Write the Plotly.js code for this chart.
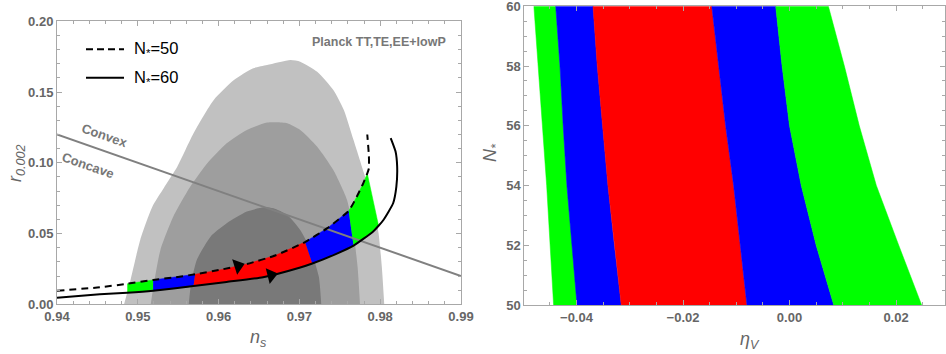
<!DOCTYPE html>
<html><head><meta charset="utf-8">
<script src="https://cdn.plot.ly/plotly-3.0.1.min.js"></script>
<style>html,body{margin:0;padding:0;background:#fff}#chart{width:946px;height:354px}</style>
</head><body><div id="chart"></div>
<script>
// ---------- Left panel data ----------
// Planck contours (n_s, r)
const outerN = [0.9483,0.9491,0.9503,0.9518,0.9532,0.9549,0.9569,0.9594,0.9619,0.9643,0.9660,0.9689,0.9701,0.9722,0.9742,0.9755,0.9767,0.9780,0.9792,0.9798,0.9802,0.9805];
const outerR = [0,0.0172,0.0455,0.0690,0.0820,0.0973,0.1208,0.1444,0.1585,0.1668,0.1691,0.1727,0.1715,0.1644,0.1515,0.1373,0.1161,0.0926,0.0690,0.0502,0.0266,0];
const midN = [0.9516,0.9520,0.9528,0.9544,0.9565,0.9586,0.9610,0.9635,0.9660,0.9672,0.9685,0.9701,0.9722,0.9742,0.9759,0.9767,0.9772,0.9775];
const midR = [0,0.0148,0.0384,0.0620,0.0832,0.0997,0.1138,0.1232,0.1284,0.1286,0.1279,0.1232,0.1114,0.0949,0.0737,0.0502,0.0266,0];
const innerN = [0.9563,0.9566,0.9573,0.9590,0.9610,0.9635,0.9656,0.9668,0.9685,0.9701,0.9714,0.9724,0.9727];
const innerR = [0,0.0148,0.0313,0.0478,0.0572,0.0655,0.0685,0.0678,0.0631,0.0525,0.0384,0.0196,0];

// N*=50 curve (dashed)
const n50 = [0.9400,0.9453,0.9487,0.9519,0.9545,0.9571,0.9603,0.9635,0.9670,0.9707,0.9735,0.9761,0.9771,0.9779,0.9784,0.9786,0.9786,0.9784];
const r50 = [0.0096,0.0120,0.0145,0.0172,0.0190,0.0212,0.0245,0.0285,0.0345,0.0440,0.0540,0.0660,0.0760,0.0855,0.0925,0.0960,0.1050,0.1200];
// N*=60 curve (solid)
const n60 = [0.9400,0.9453,0.9487,0.9519,0.9569,0.9610,0.9655,0.9700,0.9716,0.9745,0.9767,0.9791,0.9798,0.9804,0.9816,0.9820,0.9821,0.9819,0.9813];
const r60 = [0.0047,0.0071,0.0082,0.0096,0.0129,0.0158,0.0191,0.0258,0.0288,0.0355,0.0415,0.0513,0.0555,0.0596,0.0714,0.0831,0.0972,0.1080,0.1175];
// indices on each curve where colour bands change
const b50 = [2,3,5,9,11,14];
const b60 = [2,3,4,8,10,12];
const bandColors = ['#00ff00','#0000ff','#ff0000','#0000ff','#00ff00'];

// convex / concave divider line
const divN = [0.94, 0.99];
const divR = [0.12, 0.02];
// arrows
const arrowN = [0.9624, 0.9665];
const arrowR = [0.0271, 0.0205];
const arrowAng = [-18, -14];

// ---------- Right panel data ----------
const Nstar = [50,52,54,56,58,60];
const NstarTicks = [50,52,54,56,58,60];
const etaB = [
  [-0.0443,-0.0449,-0.0456,-0.0464,-0.0472,-0.0480],
  [-0.0399,-0.0408,-0.0418,-0.0425,-0.0431,-0.0439],
  [-0.0316,-0.0329,-0.0341,-0.0351,-0.0361,-0.0369],
  [-0.0080,-0.0092,-0.0105,-0.0120,-0.0133,-0.0146],
  [ 0.0083, 0.0050, 0.0022, 0.0000,-0.0014,-0.0026],
  [ 0.0248, 0.0205, 0.0163, 0.0131, 0.0103, 0.0073]
];

// ---------- Build traces ----------
const traces = [];
const grays = [['rgb(193,193,193)',outerN,outerR],['rgb(158,158,158)',midN,midR],['rgb(121,121,121)',innerN,innerR]];
grays.forEach(g => traces.push({x:g[1], y:g[2], xaxis:'x', yaxis:'y', type:'scatter', mode:'lines',
  fill:'toself', fillcolor:g[0], line:{width:0, shape:'spline', smoothing:0.6, color:g[0]}, hoverinfo:'skip', showlegend:false}));

for (let i=0;i<5;i++){
  const xs=[], ys=[];
  for (let k=b50[i]; k<=b50[i+1]; k++){ xs.push(n50[k]); ys.push(r50[k]); }
  for (let k=b60[i+1]; k>=b60[i]; k--){ xs.push(n60[k]); ys.push(r60[k]); }
  traces.push({x:xs, y:ys, xaxis:'x', yaxis:'y', type:'scatter', mode:'lines', fill:'toself',
    fillcolor:bandColors[i], line:{width:0.5, color:bandColors[i]}, hoverinfo:'skip', showlegend:false});
}
traces.push({x:divN, y:divR, xaxis:'x', yaxis:'y', type:'scatter', mode:'lines',
  line:{color:'rgb(128,128,128)', width:2}, showlegend:false, hoverinfo:'skip'});
traces.push({x:n50, y:r50, xaxis:'x', yaxis:'y', type:'scatter', mode:'lines',
  line:{color:'#000', width:2, dash:'7px,5px', shape:'spline', smoothing:0.5}, showlegend:false});
traces.push({x:n60, y:r60, xaxis:'x', yaxis:'y', type:'scatter', mode:'lines',
  line:{color:'#000', width:2, shape:'spline', smoothing:0.5}, showlegend:false});
traces.push({x:arrowN, y:arrowR, xaxis:'x', yaxis:'y', type:'scatter', mode:'markers',
  marker:{symbol:'triangle-right', size:14, color:'#000', angle:arrowAng, line:{width:0}}, showlegend:false});

for (let i=0;i<5;i++){
  const xs = etaB[i].concat(etaB[i+1].slice().reverse());
  const ys = Nstar.concat(Nstar.slice().reverse());
  traces.push({x:xs, y:ys, xaxis:'x2', yaxis:'y2', type:'scatter', mode:'lines', fill:'toself',
    fillcolor:bandColors[i], line:{width:0.5, color:bandColors[i]}, hoverinfo:'skip', showlegend:false});
}

// ---------- Layout ----------
const W=946, H=354;
const px = v => v/W, py = v => 1 - v/H;
const tf = {family:'Liberation Sans, Arial, sans-serif', size:13, color:'#666', weight:'bold'};
const frameColor = '#a8a8a8';
function ax(extra){
  return Object.assign({showline:true, linecolor:frameColor, linewidth:1, mirror:'allticks', ticks:'inside',
    ticklen:5, tickcolor:frameColor, showgrid:false, zeroline:false, tickfont:tf, fixedrange:true,
    ticklabeloverflow:'allow'}, extra);
}
const layout = {
  width:W, height:H, margin:{l:0,r:0,t:0,b:0}, paper_bgcolor:'#fff', plot_bgcolor:'#fff', showlegend:false,
  xaxis: ax({domain:[px(57), px(461)], range:[0.94,0.99], tick0:0.94, dtick:0.01, tickformat:'.2f',
    minor:{ticks:'inside', dtick:0.002, ticklen:3, tickcolor:frameColor}, anchor:'y'}),
  yaxis: ax({domain:[1-304.3/H, 1-21.3/H], range:[0,0.2], dtick:0.05, tickformat:'.2f',
    minor:{ticks:'inside', dtick:0.01, ticklen:3, tickcolor:frameColor}, anchor:'x'}),
  xaxis2: ax({domain:[px(524.3), 0.999], range:[-0.0498,0.0292], tick0:0, dtick:0.02, tickformat:'.2f',
    minor:{ticks:'inside', dtick:0.005, ticklen:3, tickcolor:frameColor}, anchor:'y2'}),
  yaxis2: ax({domain:[1-305/H, 1-6.3/H], range:[49.999,60.001], tickmode:'array', tickvals:NstarTicks,
    minor:{ticks:'inside', dtick:0.5, tick0:50, ticklen:3, tickcolor:frameColor}, anchor:'x2'}),
  shapes:[
    {type:'line', xref:'paper', yref:'paper', x0:px(86), x1:px(124), y0:py(49.3), y1:py(49.3), line:{color:'#000', width:2, dash:'7px,4px'}},
    {type:'line', xref:'paper', yref:'paper', x0:px(86), x1:px(124), y0:py(77.7), y1:py(77.7), line:{color:'#000', width:2}}
  ],
  annotations:[
    {xref:'paper', yref:'paper', x:px(132), y:py(49.5), xanchor:'left', yanchor:'middle', showarrow:false,
      text:'N<sub>*</sub>=50', font:{family:'Liberation Sans, Arial, sans-serif', size:16.5, color:'#000'}},
    {xref:'paper', yref:'paper', x:px(132), y:py(78), xanchor:'left', yanchor:'middle', showarrow:false,
      text:'N<sub>*</sub>=60', font:{family:'Liberation Sans, Arial, sans-serif', size:16.5, color:'#000'}},
    {xref:'paper', yref:'paper', x:px(448), y:py(42), xanchor:'right', yanchor:'middle', showarrow:false,
      text:'Planck TT,TE,EE+lowP', font:{family:'Liberation Sans, Arial, sans-serif', size:12.5, color:'#777', weight:'bold'}},
    {xref:'paper', yref:'paper', x:px(104.7), y:py(135), xanchor:'center', yanchor:'middle', showarrow:false, textangle:19.3,
      text:'Convex', font:{family:'Liberation Sans, Arial, sans-serif', size:13, color:'#777', weight:'bold'}},
    {xref:'paper', yref:'paper', x:px(88.3), y:py(165), xanchor:'center', yanchor:'middle', showarrow:false, textangle:19.3,
      text:'Concave', font:{family:'Liberation Sans, Arial, sans-serif', size:13, color:'#777', weight:'bold'}},
    {xref:'paper', yref:'paper', x:px(258), y:py(338), xanchor:'center', yanchor:'middle', showarrow:false,
      text:'<i>n<sub>s</sub></i>', font:{family:'Liberation Sans, Arial, sans-serif', size:18, color:'#666'}},
    {xref:'paper', yref:'paper', x:px(16), y:py(163), xanchor:'center', yanchor:'middle', showarrow:false, textangle:-90,
      text:'<i>r<sub>0.002</sub></i>', font:{family:'Liberation Sans, Arial, sans-serif', size:18, color:'#666'}},
    {xref:'paper', yref:'paper', x:px(750), y:py(340), xanchor:'center', yanchor:'middle', showarrow:false,
      text:'<i>η<sub>V</sub></i>', font:{family:'Liberation Sans, Arial, sans-serif', size:18, color:'#666'}},
    {xref:'paper', yref:'paper', x:px(492), y:py(153), xanchor:'center', yanchor:'middle', showarrow:false, textangle:-90,
      text:'<i>N<sub>*</sub></i>', font:{family:'Liberation Sans, Arial, sans-serif', size:18, color:'#666'}}
  ]
};
Plotly.newPlot('chart', traces, layout, {staticPlot:true, displayModeBar:false});
</script></body></html>
